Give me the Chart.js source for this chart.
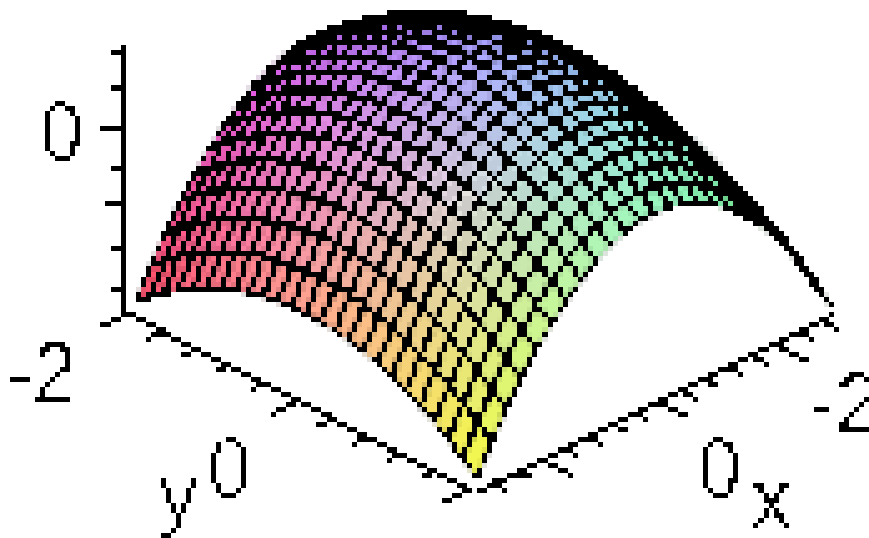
<!DOCTYPE html>
<html>
<head>
<meta charset="utf-8">
<title>Surface</title>
<script src="https://cdn.jsdelivr.net/npm/chart.js@4"></script>
<style>
  html, body { margin: 0; background: #fff; overflow: hidden; }
  canvas { display: block; image-rendering: pixelated; }
</style>
</head>
<body>
<canvas id="surface" width="869" height="538"></canvas>
<script>
const xValues = [-2, -1.833, -1.667, -1.5, -1.333, -1.167, -1, -0.833, -0.667, -0.5, -0.333, -0.167, 0, 0.167, 0.333, 0.5, 0.667, 0.833, 1, 1.167, 1.333, 1.5, 1.667, 1.833, 2];
const yValues = [-2, -1.833, -1.667, -1.5, -1.333, -1.167, -1, -0.833, -0.667, -0.5, -0.333, -0.167, 0, 0.167, 0.333, 0.5, 0.667, 0.833, 1, 1.167, 1.333, 1.5, 1.667, 1.833, 2];
// heights, one row per y value
const zRows = [
  [-4.00,-3.36,-2.77,-2.23,-1.75,-1.33,-0.97,-0.66,-0.41,-0.21,-0.07,0.02,0.04,0.02,-0.07,-0.21,-0.41,-0.66,-0.97,-1.33,-1.75,-2.23,-2.77,-3.36,-4.00],
  [-3.73,-3.08,-2.49,-1.96,-1.48,-1.06,-0.69,-0.38,-0.13,0.07,0.21,0.29,0.32,0.29,0.21,0.07,-0.13,-0.38,-0.69,-1.06,-1.48,-1.96,-2.49,-3.08,-3.73],
  [-3.48,-2.83,-2.24,-1.71,-1.23,-0.81,-0.44,-0.13,0.12,0.32,0.46,0.54,0.57,0.54,0.46,0.32,0.12,-0.13,-0.44,-0.81,-1.23,-1.71,-2.24,-2.83,-3.48],
  [-3.25,-2.60,-2.01,-1.48,-1.00,-0.58,-0.22,0.09,0.35,0.54,0.68,0.77,0.80,0.77,0.68,0.54,0.35,0.09,-0.22,-0.58,-1.00,-1.48,-2.01,-2.60,-3.25],
  [-3.05,-2.40,-1.81,-1.28,-0.80,-0.38,-0.01,0.30,0.55,0.74,0.89,0.97,1.00,0.97,0.89,0.74,0.55,0.30,-0.01,-0.38,-0.80,-1.28,-1.81,-2.40,-3.05],
  [-2.87,-2.22,-1.63,-1.10,-0.62,-0.20,0.17,0.47,0.73,0.92,1.06,1.15,1.18,1.15,1.06,0.92,0.73,0.47,0.17,-0.20,-0.62,-1.10,-1.63,-2.22,-2.87],
  [-2.71,-2.07,-1.48,-0.94,-0.47,-0.05,0.32,0.63,0.88,1.08,1.22,1.30,1.33,1.30,1.22,1.08,0.88,0.63,0.32,-0.05,-0.47,-0.94,-1.48,-2.07,-2.71],
  [-2.58,-1.94,-1.35,-0.81,-0.34,0.09,0.45,0.76,1.01,1.21,1.35,1.43,1.46,1.43,1.35,1.21,1.01,0.76,0.45,0.09,-0.34,-0.81,-1.35,-1.94,-2.58],
  [-2.48,-1.83,-1.24,-0.71,-0.23,0.19,0.56,0.87,1.12,1.32,1.46,1.54,1.57,1.54,1.46,1.32,1.12,0.87,0.56,0.19,-0.23,-0.71,-1.24,-1.83,-2.48],
  [-2.39,-1.75,-1.16,-0.62,-0.15,0.28,0.64,0.95,1.20,1.40,1.54,1.63,1.65,1.63,1.54,1.40,1.20,0.95,0.64,0.28,-0.15,-0.62,-1.16,-1.75,-2.39],
  [-2.33,-1.69,-1.10,-0.56,-0.09,0.34,0.70,1.01,1.26,1.46,1.60,1.68,1.71,1.68,1.60,1.46,1.26,1.01,0.70,0.34,-0.09,-0.56,-1.10,-1.69,-2.33],
  [-2.30,-1.65,-1.06,-0.53,-0.05,0.37,0.74,1.05,1.30,1.50,1.64,1.72,1.75,1.72,1.64,1.50,1.30,1.05,0.74,0.37,-0.05,-0.53,-1.06,-1.65,-2.30],
  [-2.29,-1.64,-1.05,-0.52,-0.04,0.38,0.75,1.06,1.31,1.51,1.65,1.73,1.76,1.73,1.65,1.51,1.31,1.06,0.75,0.38,-0.04,-0.52,-1.05,-1.64,-2.29],
  [-2.30,-1.65,-1.06,-0.53,-0.05,0.37,0.74,1.05,1.30,1.50,1.64,1.72,1.75,1.72,1.64,1.50,1.30,1.05,0.74,0.37,-0.05,-0.53,-1.06,-1.65,-2.30],
  [-2.33,-1.69,-1.10,-0.56,-0.09,0.34,0.70,1.01,1.26,1.46,1.60,1.68,1.71,1.68,1.60,1.46,1.26,1.01,0.70,0.34,-0.09,-0.56,-1.10,-1.69,-2.33],
  [-2.39,-1.75,-1.16,-0.62,-0.15,0.28,0.64,0.95,1.20,1.40,1.54,1.63,1.65,1.63,1.54,1.40,1.20,0.95,0.64,0.28,-0.15,-0.62,-1.16,-1.75,-2.39],
  [-2.48,-1.83,-1.24,-0.71,-0.23,0.19,0.56,0.87,1.12,1.32,1.46,1.54,1.57,1.54,1.46,1.32,1.12,0.87,0.56,0.19,-0.23,-0.71,-1.24,-1.83,-2.48],
  [-2.58,-1.94,-1.35,-0.81,-0.34,0.09,0.45,0.76,1.01,1.21,1.35,1.43,1.46,1.43,1.35,1.21,1.01,0.76,0.45,0.09,-0.34,-0.81,-1.35,-1.94,-2.58],
  [-2.71,-2.07,-1.48,-0.94,-0.47,-0.05,0.32,0.63,0.88,1.08,1.22,1.30,1.33,1.30,1.22,1.08,0.88,0.63,0.32,-0.05,-0.47,-0.94,-1.48,-2.07,-2.71],
  [-2.87,-2.22,-1.63,-1.10,-0.62,-0.20,0.17,0.47,0.73,0.92,1.06,1.15,1.18,1.15,1.06,0.92,0.73,0.47,0.17,-0.20,-0.62,-1.10,-1.63,-2.22,-2.87],
  [-3.05,-2.40,-1.81,-1.28,-0.80,-0.38,-0.01,0.30,0.55,0.74,0.89,0.97,1.00,0.97,0.89,0.74,0.55,0.30,-0.01,-0.38,-0.80,-1.28,-1.81,-2.40,-3.05],
  [-3.25,-2.60,-2.01,-1.48,-1.00,-0.58,-0.22,0.09,0.35,0.54,0.68,0.77,0.80,0.77,0.68,0.54,0.35,0.09,-0.22,-0.58,-1.00,-1.48,-2.01,-2.60,-3.25],
  [-3.48,-2.83,-2.24,-1.71,-1.23,-0.81,-0.44,-0.13,0.12,0.32,0.46,0.54,0.57,0.54,0.46,0.32,0.12,-0.13,-0.44,-0.81,-1.23,-1.71,-2.24,-2.83,-3.48],
  [-3.73,-3.08,-2.49,-1.96,-1.48,-1.06,-0.69,-0.38,-0.13,0.07,0.21,0.29,0.32,0.29,0.21,0.07,-0.13,-0.38,-0.69,-1.06,-1.48,-1.96,-2.49,-3.08,-3.73],
  [-4.00,-3.36,-2.77,-2.23,-1.75,-1.33,-0.97,-0.66,-0.41,-0.21,-0.07,0.02,0.04,0.02,-0.07,-0.21,-0.41,-0.66,-0.97,-1.33,-1.75,-2.23,-2.77,-3.36,-4.00]
];

const yTicks = [-2, -1.6, -1.2, -0.8, -0.4, 0, 0.4, 0.8, 1.2, 1.6, 2];
const yBigTicks = [-2, 0, 2];
const xTicks = [-1.87, -1.6, -1.33, -1.07, -0.8, -0.53, -0.27, 0, 0.27, 0.53, 0.8, 1.07, 1.33, 1.6, 1.87];
const xBigTicks = [-1.33, 0, 1.33];
const zTicks = [1.73, 0.93, 0, -0.93, -1.73, -2.66, -3.59];
const zTickLengths = [12, 12, 22, 12, 17, 17, 12];
const axisLabels = ['-2', '0', 'y', '-2', '0', 'x', '0'];
const labelPlaces = [[6, 400], [206, 493], [158, 520], [805, 432], [694, 493], [747, 524], [39, 161]];

// same view as the picture, x and y on the ground, z straight up
function project(x, y, z) {
  return {
    x: 481.5 + 85 * y - 88.25 * x,
    y: 302.5 + 43.75 * y + 42.5 * x + 44 * (-4 - z)
  };
}

function cellColor(x, y, z) {
  let u = y / 2, v = x / 2;
  let r = 170 + 65 * v + 25 * v * v - 15 * u;
  let g = 165 + 85 * u;
  let b = 255 + 30 * (z - 1.76) - 17 * u;
  return 'rgb(' + [r, g, b].map(c => Math.round(Math.min(255, Math.max(0, c)))).join(',') + ')';
}

function lineSet(points, width) {
  return {
    data: points,
    showLine: true,
    borderColor: '#000',
    borderWidth: width,
    pointRadius: 0,
    clip: false
  };
}

let datasets = [];
const floorZ = -4.18;

// axes on the floor
datasets.push(lineSet([project(2.09, -2.01, floorZ), project(2.09, 2.08, floorZ)], 5));
datasets.push(lineSet([project(2.09, 2.08, floorZ), project(-2.02, 2.02, floorZ)], 5));
yTicks.forEach(t => {
  let len = yBigTicks.includes(t) ? 0.34 : 0.17;
  datasets.push(lineSet([project(2.09, t, floorZ), project(2.09 + len, t, floorZ)], 5));
});
xTicks.forEach(t => {
  let len = xBigTicks.includes(t) ? 0.38 : 0.2;
  datasets.push(lineSet([project(t, 2.04, floorZ), project(t, 2.04 + len, floorZ)], 5));
});

// z axis on the left corner
const zBase = project(2.12, -2.02, floorZ);
const zTop = project(2.12, -2.02, 1.89);
datasets.push(lineSet([zBase, zTop], 5));
zTicks.forEach((t, k) => {
  let p = project(2.12, -2.02, t);
  datasets.push(lineSet([p, { x: p.x - zTickLengths[k], y: p.y }], 5));
});

// surface, back corner first
for (let i = 0; i < yValues.length - 1; i++) {
  for (let j = 0; j < xValues.length - 1; j++) {
    let a = project(xValues[j], yValues[i], zRows[i][j]);
    let b = project(xValues[j], yValues[i + 1], zRows[i + 1][j]);
    let c = project(xValues[j + 1], yValues[i + 1], zRows[i + 1][j + 1]);
    let d = project(xValues[j + 1], yValues[i], zRows[i][j + 1]);
    let midZ = (zRows[i][j] + zRows[i + 1][j] + zRows[i + 1][j + 1] + zRows[i][j + 1]) / 4;
    let cell = lineSet([a, b, c, d, a], 4);
    cell.cellFill = cellColor((xValues[j] + xValues[j + 1]) / 2, (yValues[i] + yValues[i + 1]) / 2, midZ);
    datasets.push(cell);
  }
}

// chart.js paints the last dataset first
datasets.reverse();

const surfacePlugin = {
  id: 'surfacePlugin',
  beforeDraw(chart) {
    chart.ctx.save();
    chart.ctx.fillStyle = '#fff';
    chart.ctx.fillRect(0, 0, chart.width, chart.height);
    chart.ctx.restore();
  },
  beforeDatasetDraw(chart, args) {
    let color = chart.data.datasets[args.index].cellFill;
    if (!color) return;
    let ctx = chart.ctx;
    ctx.save();
    ctx.beginPath();
    args.meta.data.forEach((p, k) => {
      if (k == 0) ctx.moveTo(p.x, p.y);
      else ctx.lineTo(p.x, p.y);
    });
    ctx.closePath();
    ctx.fillStyle = color;
    ctx.fill();
    ctx.restore();
  },
  afterDatasetsDraw(chart) {
    let ctx = chart.ctx;
    axisLabels.forEach((text, k) => {
      ctx.save();
      ctx.translate(chart.scales.x.getPixelForValue(labelPlaces[k][0]), chart.scales.y.getPixelForValue(labelPlaces[k][1]));
      ctx.scale(0.95, 1);
      ctx.font = '84px "Liberation Sans"';
      ctx.fillStyle = '#444';
      ctx.textBaseline = 'alphabetic';
      ctx.fillText(text, 0, 0);
      ctx.restore();
    });
  },
  // the picture is hard edged: no grey pixels, dark ones go black
  afterDraw(chart) {
    let w = chart.canvas.width, h = chart.canvas.height;
    let img = chart.ctx.getImageData(0, 0, w, h);
    let px = img.data;
    for (let i = 0; i < px.length; i += 4) {
      let top = Math.max(px[i], px[i + 1], px[i + 2]);
      let grey = px[i] == px[i + 1] && px[i + 1] == px[i + 2];
      let k = 1;
      if (top < 128) k = 0;
      else if (grey) k = 255 / top;
      else if (top < 205) k = 228 / top;
      px[i] *= k;
      px[i + 1] *= k;
      px[i + 2] *= k;
      px[i + 3] = 255;
    }
    chart.ctx.putImageData(img, 0, 0);
  }
};

new Chart(document.getElementById('surface'), {
  type: 'scatter',
  data: { datasets: datasets },
  options: {
    responsive: false,
    animation: false,
    devicePixelRatio: 0.2,
    layout: { padding: 0 },
    plugins: { legend: { display: false }, tooltip: { enabled: false } },
    scales: {
      x: { type: 'linear', display: false, min: 0, max: 869 },
      y: { type: 'linear', display: false, min: 0, max: 538, reverse: true }
    }
  },
  plugins: [surfacePlugin]
});
</script>
</body>
</html>
